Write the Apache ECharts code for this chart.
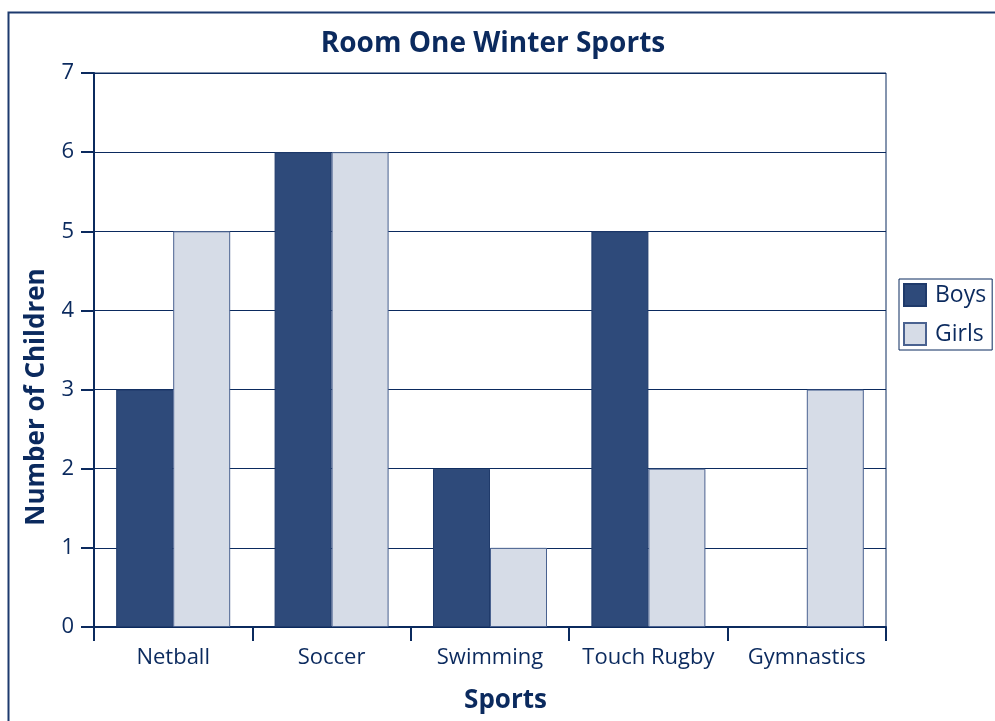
<!DOCTYPE html>
<html><head><meta charset="utf-8">
<script src="https://cdn.jsdelivr.net/npm/echarts@6/dist/echarts.min.js"></script>
<style>html,body{margin:0;padding:0;background:#fff}#c{width:995px;height:721px}</style>
</head><body><div id="c"></div>
<script>
const categories = ['Netball', 'Soccer', 'Swimming', 'Touch Rugby', 'Gymnastics'];
const boys = [3, 6, 2, 5, 0];
const girls = [5, 6, 1, 2, 3];
const seriesNames = ['Boys', 'Girls'];

const navy = '#0b2a5e';
const font = '"Open Sans", sans-serif';
const chart = echarts.init(document.getElementById('c'));
chart.setOption({
  animation: false,
  backgroundColor: '#fff',
  textStyle: { fontFamily: font, color: navy },
  graphic: [{
    type: 'rect', shape: { x: 8.5, y: 12.5, width: 1100, height: 800 },
    style: { fill: 'none', stroke: '#1d3a6e', lineWidth: 2 }, silent: true
  }],
  title: {
    text: 'Room One Winter Sports', left: 488, top: 25, textAlign: 'center',
    textStyle: { fontFamily: font, fontWeight: 'bold', fontSize: 28, color: navy }
  },
  legend: {
    orient: 'vertical', left: 899, top: 279,
    padding: [4, 6, 4, 4], itemGap: 15, itemWidth: 22, itemHeight: 22,
    borderColor: navy, borderWidth: 1,
    icon: 'rect',
    textStyle: { fontFamily: font, fontSize: 23, lineHeight: 22, color: navy, padding: [0, 0, 0, 4] },
    data: seriesNames
  },
  grid: {
    left: 94, top: 73, width: 792, height: 554,
    show: true, borderColor: navy, borderWidth: 1, backgroundColor: 'transparent'
  },
  xAxis: {
    type: 'category', data: categories,
    name: 'Sports', nameLocation: 'middle', nameGap: 61,
    nameTextStyle: { fontFamily: font, fontWeight: 'bold', fontSize: 26, color: navy, padding: [0, 0, 0, 31] },
    axisLine: { lineStyle: { color: navy, width: 2 } },
    axisTick: { show: true, interval: 0, length: 14, lineStyle: { color: navy, width: 2 } },
    axisLabel: { interval: 0, hideOverlap: false, fontFamily: font, fontSize: 22, color: navy, margin: 20 }
  },
  yAxis: {
    type: 'value', min: 0, max: 7, interval: 1,
    name: 'Number of Children', nameLocation: 'middle', nameGap: 44,
    nameTextStyle: { fontFamily: font, fontWeight: 'bold', fontSize: 26, color: navy, padding: [0, 94, 0, 0] },
    axisLine: { show: true, lineStyle: { color: navy, width: 2 } },
    axisTick: { show: true, length: 13, lineStyle: { color: navy, width: 2 } },
    axisLabel: { fontFamily: font, fontSize: 22, color: navy, margin: 20 },
    splitLine: { show: true, lineStyle: { color: navy, width: 1 } }
  },
  series: [
    { name: seriesNames[0], type: 'bar', data: boys, barWidth: 57, barGap: '0%',
      itemStyle: { color: '#2e4a7a', borderColor: '#1f3a6a', borderWidth: 1 } },
    { name: seriesNames[1], type: 'bar', data: girls, barWidth: 57,
      itemStyle: { color: '#d6dce7', borderColor: '#4a6290', borderWidth: 1 } }
  ]
});
</script></body></html>
